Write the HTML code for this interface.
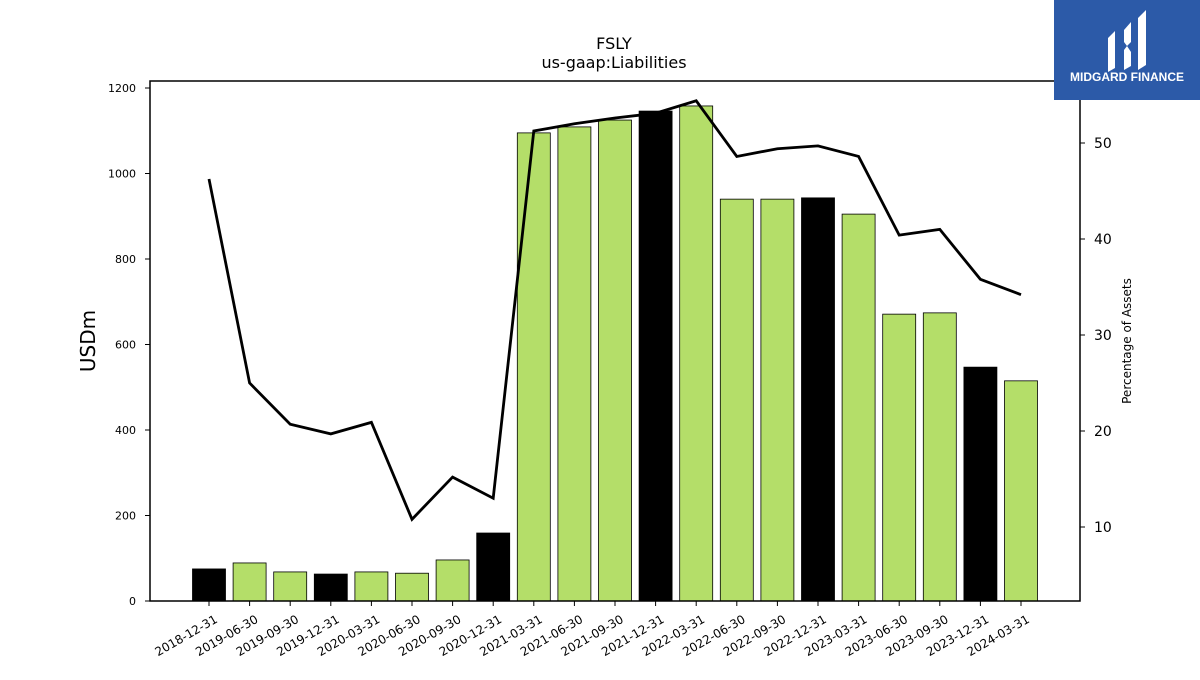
<!DOCTYPE html>
<html><head><meta charset="utf-8"><style>
body{margin:0;background:#fff;font-family:"Liberation Sans","DejaVu Sans",sans-serif}
svg text{font-family:"DejaVu Sans","Liberation Sans",sans-serif}
</style></head><body>
<svg id="chart" width="1200" height="675" viewBox="0 0 1200 675" xmlns="http://www.w3.org/2000/svg">
<text x="614" y="49" text-anchor="middle" font-size="16">FSLY</text>
<text x="614" y="68" text-anchor="middle" font-size="16">us-gaap:Liabilities</text>
<text transform="translate(95,341) rotate(-90)" text-anchor="middle" font-size="20">USDm</text>
<text transform="translate(1131,341) rotate(-90)" text-anchor="middle" font-size="12">Percentage of Assets</text>
<g id="bars"></g><g id="xticks"></g><g id="yticks"></g><g id="y2ticks"></g>
<path id="line" fill="none" stroke="#000" stroke-width="2.8"/>
<rect x="150" y="81" width="930" height="520" fill="none" stroke="#000" stroke-width="1.5"/>
<g>
<rect x="1054" y="0" width="146" height="100" fill="#2c5aa8"/>
<path d="M1108 38 L1115 31 L1115 68 L1108 72 Z M1124 30 L1131 22 L1131 42 L1127 46 L1124 42 Z M1124 50 L1127 46 L1131 52 L1131 66 L1124 70 Z M1138 18 L1146 10 L1146 65 L1138 70 Z" fill="#fff"/>
<text x="1127" y="81" text-anchor="middle" font-size="12" font-weight="bold" fill="#fff" style="font-family:'Liberation Sans',sans-serif">MIDGARD FINANCE</text>
</g>
</svg>
<script>
const categories=["2018-12-31","2019-06-30","2019-09-30","2019-12-31","2020-03-31","2020-06-30","2020-09-30","2020-12-31","2021-03-31","2021-06-30","2021-09-30","2021-12-31","2022-03-31","2022-06-30","2022-09-30","2022-12-31","2023-03-31","2023-06-30","2023-09-30","2023-12-31","2024-03-31"];
const liabilities=[75,89,68,63,68,65,96,159,1095,1109,1125,1146,1158,940,940,943,905,671,674,547,515];
const pctAssets=[46.25,25.0,20.7,19.7,20.9,10.8,15.2,13.0,51.25,52.0,52.6,53.1,54.4,48.6,49.4,49.7,48.6,40.4,41.0,35.8,34.2];
const yTicks=[0,200,400,600,800,1000,1200];
const y2Ticks=[10,20,30,40,50];
const NS="http://www.w3.org/2000/svg";
const x=i=>209+i*(1021-209)/(categories.length-1);
const y=v=>601-v*(513/1200);
const y2=v=>623-v*9.6;
function mk(t,a,p){const e=document.createElementNS(NS,t);for(const k in a)e.setAttribute(k,a[k]);document.getElementById(p).appendChild(e);return e;}
categories.forEach((c,i)=>{
 const black=c.endsWith("12-31");
 const b=mk("rect",{x:x(i)-16.5,y:y(liabilities[i]),width:33,height:601-y(liabilities[i]),fill:black?"#000":"#b4de69",stroke:"#000","stroke-width":0.8},"bars");
 
 
 mk("line",{x1:x(i),x2:x(i),y1:601,y2:606,stroke:"#000"},"xticks");
 const t=mk("text",{transform:`translate(${x(i)+5},${614}) rotate(-30)`,"text-anchor":"end","font-size":12,"dominant-baseline":"hanging"},"xticks");
 t.textContent=c;
 
 
});
yTicks.forEach(v=>{
 mk("line",{x1:145,x2:150,y1:y(v),y2:y(v),stroke:"#000"},"yticks");
 const t=mk("text",{x:136,y:y(v)+4,"text-anchor":"end","font-size":11},"yticks");
 t.textContent=v;
 
 
});
y2Ticks.forEach(v=>{
 mk("line",{x1:1080,x2:1085,y1:y2(v),y2:y2(v),stroke:"#000"},"y2ticks");
 const t=mk("text",{x:1094,y:y2(v)+5,"font-size":14},"y2ticks");
 t.textContent=v;
 
 
});
document.getElementById("line").setAttribute("d",pctAssets.map((v,i)=>(i?"L":"M")+x(i)+" "+y2(v)).join(" "));
</script>
</body></html>
